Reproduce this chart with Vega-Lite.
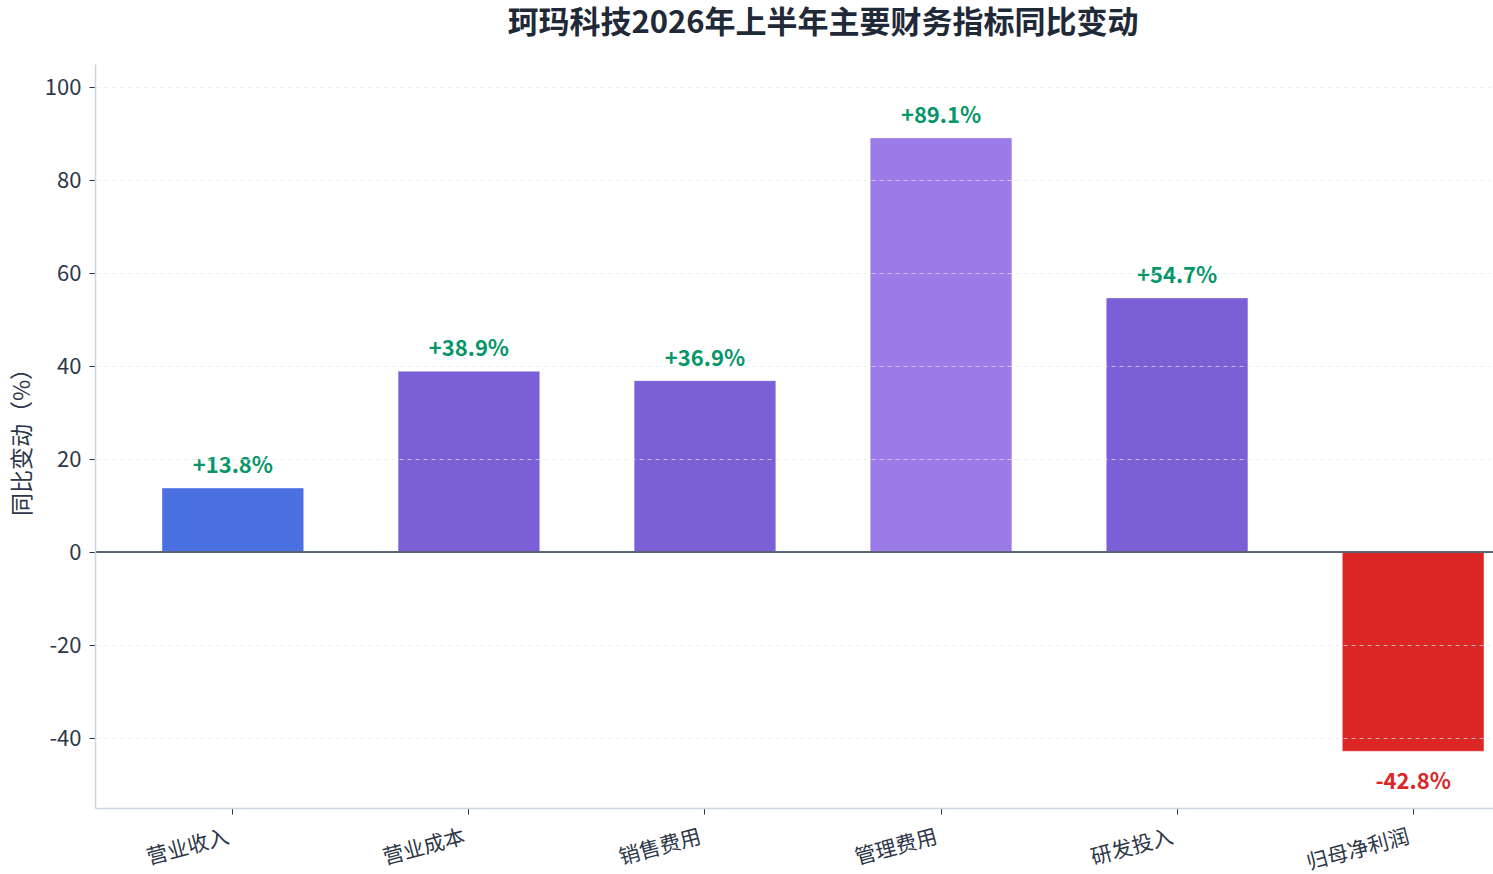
{
  "$schema": "https://vega.github.io/schema/vega-lite/v6.json",
  "autosize": {"type": "none"},
  "padding": {"left": 95, "top": 64, "right": 0, "bottom": 66},
  "width": 1456,
  "height": 744,
  "background": "white",
  "title": {
    "text": "珂玛科技2026年上半年主要财务指标同比变动",
    "font": "Noto Sans CJK SC",
    "fontSize": 31,
    "fontWeight": "bold",
    "color": "#1f2937",
    "anchor": "middle",
    "offset": 24
  },
  "data": {
    "values": [
      {"指标": "营业收入", "value": 13.8, "label": "+13.8%"},
      {"指标": "营业成本", "value": 38.9, "label": "+38.9%"},
      {"指标": "销售费用", "value": 36.9, "label": "+36.9%"},
      {"指标": "管理费用", "value": 89.1, "label": "+89.1%"},
      {"指标": "研发投入", "value": 54.7, "label": "+54.7%"},
      {"指标": "归母净利润", "value": -42.8, "label": "-42.8%"}
    ]
  },
  "encoding": {
    "x": {
      "field": "指标",
      "type": "nominal",
      "sort": null,
      "scale": {"paddingInner": 0.4, "paddingOuter": 0.284},
      "axis": {
        "title": null,
        "labelAngle": -15,
        "labelAlign": "right",
        "labelBaseline": "top",
        "labelPadding": 12,
        "labelOffset": -7,
        "labelFontSize": 21,
        "labelFont": "Noto Sans CJK SC",
        "labelColor": "#2d3748",
        "tickColor": "#2d3748",
        "tickSize": 6,
        "domainColor": "#cbd5e0",
        "domainWidth": 1.5,
        "grid": false
      }
    }
  },
  "layer": [
    {
      "mark": {"type": "bar", "stroke": "white", "strokeOpacity": 0.35, "strokeWidth": 1},
      "encoding": {
        "y": {
          "field": "value",
          "type": "quantitative",
          "scale": {"domain": [-55, 105], "nice": false, "zero": false},
          "axis": {
            "title": "同比变动（%）",
            "titleFont": "Noto Sans CJK SC",
            "titleFontSize": 23,
            "titleFontWeight": "normal",
            "titleColor": "#2d3748",
            "titlePadding": 10,
            "values": [-40, -20, 0, 20, 40, 60, 80, 100],
            "labelExpr": "replace(datum.label, '−', '-')",
            "labelFontSize": 22,
            "labelFont": "Noto Sans CJK SC",
            "labelColor": "#2d3748",
            "labelPadding": 8,
            "tickColor": "#2d3748",
            "tickSize": 6,
            "domainColor": "#cbd5e0",
            "domainWidth": 1.5,
            "grid": true,
            "gridColor": "#e2e8f0",
            "gridOpacity": {"condition": {"test": "datum.value === 0", "value": 0}, "value": 0.7},
            "gridDash": [4, 4],
            "gridWidth": 1,
            "zindex": 1
          }
        },
        "color": {
          "field": "指标",
          "type": "nominal",
          "scale": {
            "domain": ["营业收入", "营业成本", "销售费用", "管理费用", "研发投入", "归母净利润"],
            "range": ["#4a70e1", "#7b5fd6", "#7b5fd6", "#9a7be8", "#7b5fd6", "#dc2626"]
          },
          "legend": null
        }
      }
    },
    {
      "mark": {"type": "rule", "color": "#5a6478", "strokeWidth": 1.5},
      "encoding": {"y": {"datum": 0, "type": "quantitative"}, "x": {"value": 0}, "x2": {"value": 1456}}
    },
    {
      "transform": [{"filter": "datum.value >= 0"}],
      "mark": {"type": "text", "baseline": "bottom", "dy": -10, "fontSize": 22, "fontWeight": "bold", "font": "Noto Sans CJK SC", "color": "#059669"},
      "encoding": {
        "y": {"field": "value", "type": "quantitative"},
        "text": {"field": "label"}
      }
    },
    {
      "transform": [{"filter": "datum.value < 0"}],
      "mark": {"type": "text", "baseline": "top", "dy": 21, "fontSize": 22, "fontWeight": "bold", "font": "Noto Sans CJK SC", "color": "#dc2626"},
      "encoding": {
        "y": {"field": "value", "type": "quantitative"},
        "text": {"field": "label"}
      }
    }
  ],
  "config": {
    "view": {"stroke": null}
  }
}
